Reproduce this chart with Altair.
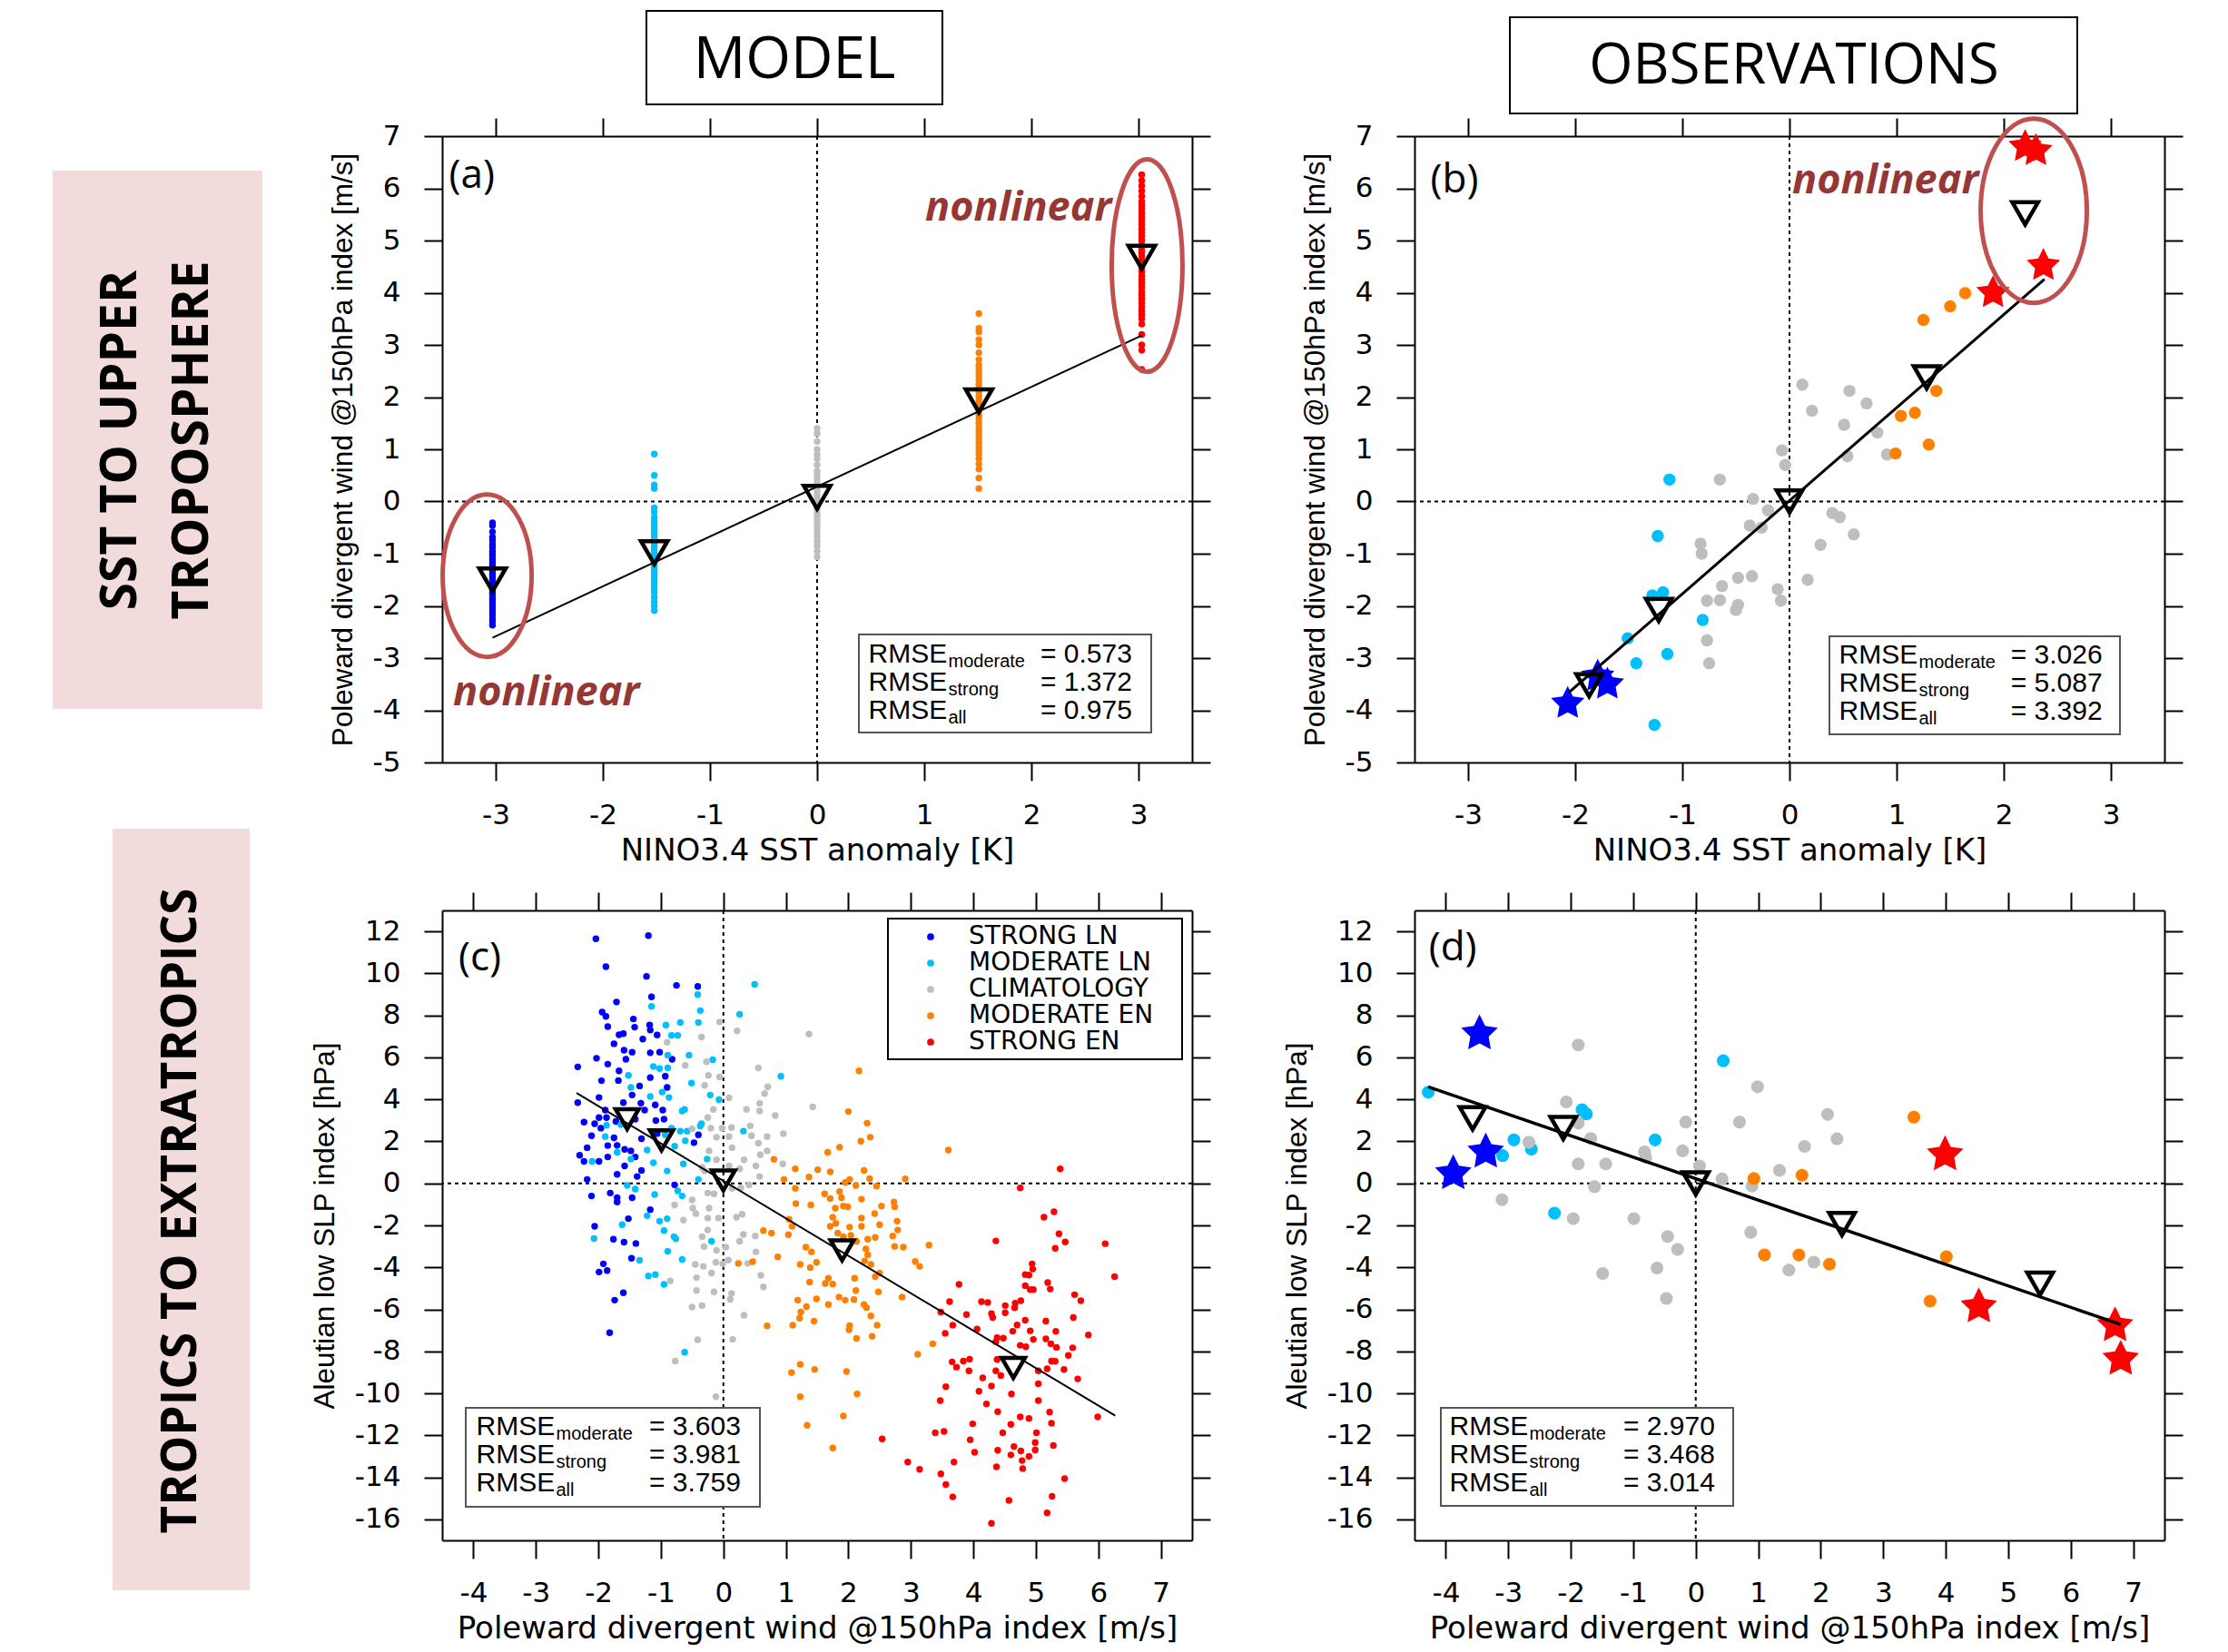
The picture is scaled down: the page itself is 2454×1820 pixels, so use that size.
import math
import altair as alt
import pandas as pd

CLASSES = ["STRONG LN", "MODERATE LN", "CLIMATOLOGY", "MODERATE EN", "STRONG EN"]
COLORS = ["#0000ff", "#00bfff", "#bebebe", "#ff8000", "#ff0000"]

# ---------------- Panel (a): MODEL, SST -> upper troposphere ----------------
A_STRIP_X = [-3.03, -1.52, 0.0, 1.51, 3.03]
A_STRONG_LN = [-0.41, -0.46, -0.58, -0.68, -0.74, -0.82, -0.88, -0.95, -1.0, -1.04, -1.1, -1.15,
               -1.19, -1.24, -1.3, -1.34, -1.4, -1.45, -1.5, -1.55, -1.6, -1.64, -1.7, -1.75, -1.8,
               -1.86, -1.9, -1.95, -2.01, -2.06, -2.12, -2.18, -2.25, -2.3, -2.37]
A_MODERATE_LN = [0.91, 0.5, 0.32, 0.25, -0.12, -0.2, -0.3, -0.36, -0.43, -0.5, -0.55, -0.6, -0.66,
                 -0.72, -0.78, -0.82, -0.88, -0.94, -1.0, -1.05, -1.1, -1.16, -1.22, -1.27, -1.33,
                 -1.38, -1.44, -1.5, -1.56, -1.62, -1.68, -1.75, -1.84, -1.92, -2.0, -2.09]
A_CLIM = [1.4, 1.3, 1.15, 1.0, 0.9, 0.82, 0.7, 0.58, 0.5, 0.42, 0.35, 0.28, 0.2, 0.12, 0.05, -0.02,
          -0.1, -0.16, -0.24, -0.3, -0.38, -0.45, -0.52, -0.6, -0.68, -0.76, -0.85, -0.95, -1.06]
A_MODERATE_EN = [3.6, 3.32, 3.25, 3.1, 3.0, 2.85, 2.72, 2.62, 2.55, 2.48, 2.4, 2.33, 2.25, 2.18, 2.1,
                 2.02, 1.95, 1.88, 1.8, 1.72, 1.65, 1.58, 1.5, 1.42, 1.35, 1.27, 1.2, 1.12, 1.05,
                 0.97, 0.9, 0.82, 0.72, 0.62, 0.45, 0.25]
A_STRONG_EN = [6.26, 6.15, 6.05, 5.95, 5.85, 5.75, 5.68, 5.6, 5.52, 5.45, 5.38, 5.3, 5.22, 5.15,
               5.08, 5.0, 4.92, 4.85, 4.78, 4.7, 4.62, 4.55, 4.48, 4.4, 4.32, 4.25, 4.18, 4.1, 4.02,
               3.95, 3.88, 3.8, 3.72, 3.65, 3.58, 3.5, 3.4, 3.2, 3.0, 2.9, 2.53]
A_MEAN_X = [-3.03, -1.52, 0.0, 1.51, 3.03]
A_MEAN_Y = [-1.50, -0.98, 0.08, 1.93, 4.68]
A_FIT_X = [-3.03, 3.03]
A_FIT_Y = [-2.61, 3.18]
A_ELLIPSE_X = [-3.08, 3.08]
A_ELLIPSE_Y = [-1.42, 4.52]
A_RMSE = ["0.573", "1.372", "0.975"]

# ---------------- Panel (b): OBSERVATIONS ----------------
B_STRONG_LN = [(-2.07, -3.87), (-1.79, -3.35), (-1.70, -3.50)]
B_MODERATE_LN = [(-1.12, 0.42), (-1.23, -0.66), (-1.28, -1.80), (-1.18, -1.74), (-0.81, -2.27),
                 (-1.51, -2.62), (-1.14, -2.92), (-1.43, -3.10), (-1.26, -4.28)]
B_CLIM = [(0.12, 2.24), (0.56, 2.12), (0.21, 1.74), (0.72, 1.88), (0.51, 1.47), (0.82, 1.32),
          (0.54, 0.87), (0.91, 0.90), (-0.07, 0.98), (-0.04, 0.70), (-0.65, 0.42), (-0.34, 0.05),
          (-0.20, -0.17), (-0.37, -0.46), (-0.26, -0.50), (0.40, -0.22), (0.47, -0.30), (0.60, -0.63),
          (0.29, -0.83), (-0.83, -0.81), (-0.82, -1.00), (-0.48, -1.46), (-0.35, -1.43), (-0.63, -1.62),
          (-0.77, -1.90), (-0.65, -1.89), (-0.48, -1.98), (-0.50, -2.08), (-0.11, -1.68), (-0.08, -1.90),
          (0.17, -1.50), (-0.77, -2.66), (-0.75, -3.10)]
B_MODERATE_EN = [(1.25, 3.48), (1.50, 3.74), (1.64, 3.99), (1.37, 2.12), (1.04, 1.64), (1.17, 1.70),
                 (0.99, 0.92), (1.30, 1.09)]
B_STRONG_EN = [(2.20, 6.80), (2.30, 6.72), (2.37, 4.52), (1.90, 4.00)]
B_MEAN_X = [-1.87, -1.22, 0.0, 1.28, 2.20]
B_MEAN_Y = [-3.52, -2.08, 0.0, 2.38, 5.52]
B_FIT_X = [-2.06, 2.38]
B_FIT_Y = [-3.66, 4.26]
B_ELLIPSE_X = [2.28]
B_ELLIPSE_Y = [5.57]
B_RMSE = ["3.026", "5.087", "3.392"]

# ---------------- Panel (c): MODEL, tropics -> extratropics ----------------
C_STRONG_LN = [(-2.04, 11.65), (-1.20, 11.80), (-1.88, 10.32), (-1.23, 9.86), (-0.75, 9.43), (-0.41, 9.38),
               (-1.71, 8.64), (-1.15, 8.88), (-1.94, 8.16), (-1.88, 7.95), (-1.44, 7.83), (-1.85, 7.47),
               (-1.42, 7.44), (-1.18, 7.54), (-1.17, 7.30), (-1.67, 7.08), (-1.60, 7.13), (-1.29, 6.87),
               (-1.06, 7.07), (-1.75, 6.65), (-1.59, 6.34), (-1.46, 6.25), (-1.17, 6.22), (-1.02, 6.25),
               (-2.03, 5.96), (-1.56, 5.91), (-0.82, 5.91), (-2.33, 5.55), (-1.85, 5.68), (-1.67, 5.36),
               (-1.17, 5.04), (-0.93, 5.10), (-1.95, 4.89), (-1.68, 4.90), (-1.34, 4.64), (-0.90, 4.57),
               (-1.99, 4.09), (-1.46, 4.21), (-1.60, 3.85), (-1.32, 3.82), (-1.09, 3.74), (-2.33, 3.85),
               (-1.89, 3.49), (-1.26, 3.49), (-0.97, 3.49), (-1.99, 3.13), (-1.87, 3.13), (-2.06, 2.84),
               (-2.23, 2.92), (-1.72, 2.95), (-1.41, 3.06), (-0.95, 3.06), (-1.08, 2.99), (-1.96, 2.63),
               (-0.40, 2.31), (-2.11, 2.27), (-1.75, 2.17), (-1.31, 2.13), (-1.06, 2.37), (-0.47, 1.94),
               (-2.18, 1.70), (-1.85, 1.80), (-1.70, 1.81), (-1.58, 1.62), (-1.48, 1.55), (-2.30, 1.34),
               (-2.23, 1.05), (-1.99, 1.05), (-1.85, 1.26), (-1.41, 1.26), (-1.58, 0.83), (-1.70, 0.43),
               (-1.31, 0.62), (-1.38, 0.33), (-2.18, 0.19), (-0.78, -0.07), (-2.11, -0.60), (-1.81, -0.46),
               (-1.70, -0.68), (-1.46, -0.68), (-1.70, -0.89), (-1.17, -1.25), (-1.52, -1.68), (-2.06, -2.04),
               (-1.76, -2.66), (-1.59, -2.80), (-1.40, -2.86), (-1.47, -3.57), (-1.92, -3.83), (-1.99, -4.22),
               (-1.86, -4.15), (-1.60, -5.21), (-1.74, -5.56), (-1.82, -7.11)]
C_MODERATE_LN = [(0.50, 9.48), (-0.41, 8.99), (-1.15, 8.43), (-0.37, 8.23), (0.26, 8.05), (-0.40, 7.66),
                 (-0.92, 7.54), (-0.69, 7.66), (-0.83, 7.05), (-0.73, 7.05), (-0.55, 6.11), (-0.89, 6.11),
                 (-0.17, 5.89), (-1.12, 5.57), (-1.02, 5.47), (-0.89, 5.50), (-1.52, 5.14), (0.92, 5.10),
                 (-0.51, 4.78), (-1.48, 4.57), (-0.98, 4.35), (-0.21, 4.21), (-0.07, 3.99), (-0.87, 4.09),
                 (-1.17, 4.14), (-0.62, 3.52), (-0.66, 3.45), (-0.35, 2.84), (-0.37, 2.73), (-1.87, 2.77),
                 (-1.64, 2.80), (-0.83, 2.63), (-0.69, 2.49), (-0.58, 2.49), (-1.89, 2.23), (-0.93, 2.31),
                 (-0.61, 2.03), (-0.78, 1.77), (-1.70, 1.48), (-1.22, 1.59), (-0.26, 1.16), (-1.48, 1.16),
                 (-2.10, 1.05), (-1.12, 0.98), (-0.64, 0.93), (-0.90, 0.59), (-0.40, 0.19), (-1.54, -0.10),
                 (-0.73, -0.36), (-1.41, -0.27), (-1.10, -0.53), (-0.66, -0.60), (-1.02, -1.80), (-0.90, -1.68),
                 (-1.62, -1.97), (0.32, 2.49), (-1.22, -1.54), (-2.07, -2.63), (-0.95, -2.25), (-0.79, -2.54),
                 (-0.76, -2.64), (-0.19, -2.76), (-0.89, -3.23), (-0.66, -3.62), (-1.34, -3.66), (-1.20, -4.41),
                 (-1.09, -4.34), (-0.95, -4.81), (-0.62, -8.04)]
C_CLIM = [(-0.06, 7.69), (0.22, 7.26), (-0.35, 6.97), (1.37, 7.11), (-0.90, 6.72), (-0.27, 5.79),
          (-0.61, 5.62), (0.56, 5.50), (-0.24, 5.14), (-0.06, 5.07), (-0.30, 4.67), (0.71, 4.60),
          (0.66, 4.28), (0.09, 4.07), (1.43, 3.64), (0.58, 3.81), (-0.16, 3.52), (-0.25, 3.13),
          (0.37, 3.52), (0.58, 3.45), (0.83, 3.23), (-0.50, 2.60), (-0.20, 2.63), (-0.02, 2.63),
          (0.13, 2.66), (0.43, 2.74), (-0.11, 2.20), (0.09, 2.23), (0.70, 2.23), (0.96, 2.37),
          (0.45, 2.27), (-0.23, 1.55), (0.56, 1.91), (0.14, 1.70), (-0.11, 1.12), (0.33, 1.12),
          (0.70, 1.55), (0.59, 1.36), (0.95, 0.93), (-0.34, 0.76), (-0.30, 0.59), (0.09, 0.83),
          (0.52, 0.83), (0.26, 0.69), (0.58, 0.33), (0.41, -0.07), (-0.25, -0.46), (-0.15, -0.50),
          (0.14, -0.24), (0.28, -0.22), (-0.50, -0.79), (-0.49, -1.18), (-0.23, -1.18), (-0.78, -1.03),
          (-0.64, -1.75), (-0.25, -1.65), (-0.08, -1.65), (0.21, -1.61), (0.30, -1.47), (-0.44, -1.44),
          (-0.25, -2.22), (-0.34, -2.54), (0.32, -2.43), (0.51, -2.51), (-0.31, -3.01), (-0.11, -3.19),
          (0.04, -3.04), (0.26, -2.76), (-0.45, -3.86), (-0.32, -3.95), (-0.12, -3.76), (-0.01, -3.83),
          (0.08, -3.65), (0.52, -3.26), (0.39, -3.81), (-0.19, -4.27), (-0.43, -4.49), (-0.85, -4.65),
          (0.60, -4.38), (0.64, -4.93), (-0.43, -5.10), (-0.15, -5.17), (0.13, -5.24), (0.11, -5.52),
          (-0.34, -5.82), (-0.50, -5.89), (0.33, -6.28), (-0.41, -7.45), (0.15, -7.43), (-0.77, -8.46),
          (-0.12, -10.16)]
C_MODERATE_EN = [(0.81, 1.15), (1.15, 0.69), (1.37, 0.30), (1.51, 0.65), (0.97, 0.19), (1.15, -0.24),
                 (1.16, -0.96), (1.40, -1.03), (1.05, -1.71), (2.17, 5.36), (2.00, 3.42), (2.30, 2.87),
                 (2.35, 2.20), (2.20, 2.01), (1.86, 1.72), (1.67, 1.48), (3.60, 1.59), (1.71, 0.55),
                 (2.25, 0.62), (2.34, 0.23), (2.91, 0.22), (2.02, 0.19), (1.95, 0.04), (2.12, -0.10),
                 (2.45, -0.13), (1.62, -0.50), (1.86, -0.39), (1.71, -0.72), (1.89, -0.68), (2.21, -0.75),
                 (2.73, -0.89), (2.53, -1.08), (2.74, -1.11), (1.92, -1.08), (1.79, -1.18), (1.99, -1.11),
                 (1.75, -1.61), (2.21, -1.65), (2.42, -1.44), (2.78, -1.80), (1.80, -1.90), (1.71, -2.04),
                 (2.02, -2.08), (2.21, -2.04), (2.50, -1.97), (0.64, -2.25), (0.77, -2.37), (1.04, -2.44),
                 (1.10, -2.04), (1.32, -3.04), (1.41, -3.26), (0.87, -3.50), (0.24, -3.81), (0.47, -3.73),
                 (1.23, -3.86), (1.39, -4.01), (1.49, -3.76), (1.38, -4.70), (1.19, -5.56), (1.33, -5.87),
                 (1.24, -6.13), (1.49, -5.50), (1.22, -6.42), (1.45, -6.56), (1.11, -6.75), (0.70, -6.79),
                 (1.23, -8.62), (1.09, -9.01), (1.46, -8.86), (1.23, -10.16), (1.34, -11.52),
                 (2.79, -2.22), (2.71, -2.51), (1.83, -2.37), (1.92, -2.54), (2.04, -2.47), (2.31, -2.66),
                 (2.43, -2.57), (2.13, -2.76), (2.74, -3.00), (2.88, -3.04), (3.29, -2.94), (2.28, -3.12),
                 (2.31, -3.40), (2.26, -3.69), (2.36, -3.86), (3.07, -3.72), (3.14, -3.95), (2.50, -4.27),
                 (2.43, -4.44), (2.10, -4.52), (1.68, -4.52), (1.63, -4.77), (1.75, -4.80), (2.12, -5.10),
                 (2.48, -5.17), (2.86, -5.41), (1.68, -5.77), (1.85, -5.41), (1.95, -5.56), (2.09, -5.53),
                 (2.25, -5.77), (2.29, -5.92), (2.36, -6.31), (2.46, -6.75), (2.02, -6.78), (2.01, -6.97),
                 (2.13, -7.38), (2.38, -7.28), (3.35, -7.64), (3.11, -8.14), (1.97, -8.96), (2.14, -10.03),
                 (1.92, -11.08), (1.75, -12.60)]
C_STRONG_EN = [(5.39, 0.69), (4.75, -0.22), (5.13, -1.61), (5.29, -1.35), (4.36, -2.74), (5.37, -2.40),
               (5.47, -2.79), (5.31, -3.09), (6.11, -2.87), (6.26, -4.44), (4.94, -3.83), (4.95, -4.08),
               (4.83, -4.34), (4.89, -4.37), (3.77, -4.81), (5.19, -4.72), (5.23, -5.03), (4.83, -4.87),
               (4.91, -5.06), (4.96, -5.06), (5.62, -5.30), (5.72, -5.59), (3.62, -5.63), (4.13, -5.63),
               (4.23, -5.67), (4.51, -5.82), (4.67, -5.70), (4.76, -5.59), (4.66, -5.92), (4.51, -6.16),
               (4.29, -6.20), (4.31, -6.39), (3.89, -6.25), (3.48, -6.13), (5.60, -6.39), (5.16, -6.56),
               (4.83, -6.52), (4.70, -6.74), (3.67, -6.75), (4.06, -6.94), (4.63, -7.04), (4.91, -7.02),
               (5.32, -7.05), (3.55, -7.14), (5.84, -7.22), (4.38, -7.35), (4.48, -7.37), (4.36, -7.54),
               (4.96, -7.43), (5.16, -7.40), (5.24, -7.64), (5.33, -7.81), (5.59, -7.83), (4.75, -7.71),
               (4.84, -7.78), (5.52, -8.19), (3.66, -8.50), (3.73, -8.75), (3.84, -8.46), (3.94, -8.37),
               (3.93, -8.93), (4.38, -8.39), (5.25, -8.46), (5.31, -8.47), (5.18, -8.83), (5.45, -8.86),
               (4.36, -8.93), (4.44, -9.15), (5.04, -8.93), (4.15, -9.26), (5.67, -9.31), (4.29, -9.65),
               (5.04, -9.54), (3.56, -9.68), (4.09, -9.90), (4.61, -10.03), (3.47, -10.34), (4.21, -10.50),
               (5.04, -10.34), (4.39, -10.87), (5.22, -10.89), (5.99, -11.12), (4.75, -11.12), (4.89, -11.20),
               (3.99, -11.45), (5.25, -11.42), (4.60, -11.48), (3.39, -11.88), (3.53, -11.81), (4.47, -11.88),
               (5.01, -11.88), (3.95, -12.21), (2.54, -12.17), (4.99, -12.34), (4.65, -12.53), (4.76, -12.74),
               (5.28, -12.48), (4.39, -12.71), (4.99, -12.70), (4.02, -12.81), (4.60, -12.93), (4.89, -13.00),
               (4.78, -13.20), (3.69, -13.27), (2.95, -13.27), (3.14, -13.62), (4.37, -13.50), (4.79, -13.58),
               (3.48, -13.83), (5.46, -14.06), (3.56, -14.34), (3.67, -14.93), (5.26, -14.90), (4.57, -15.10),
               (5.18, -15.69), (4.29, -16.19)]
C_MEAN_X = [-1.54, -0.99, 0.0, 1.90, 4.64]
C_MEAN_Y = [3.06, 2.05, 0.14, -3.19, -8.79]
C_FIT_X = [-2.35, 6.27]
C_FIT_Y = [4.31, -11.06]
C_RMSE = ["3.603", "3.981", "3.759"]

# ---------------- Panel (d): OBSERVATIONS ----------------
D_STRONG_LN = [(-3.46, 7.13), (-3.36, 1.50), (-3.88, 0.47)]
D_MODERATE_LN = [(-4.28, 4.34), (-1.82, 3.51), (-1.75, 3.31), (-2.91, 2.07), (-3.09, 1.32), (-2.63, 1.63),
                 (-2.26, -1.42), (-0.65, 2.07), (0.44, 5.84)]
D_CLIM = [(-1.88, 6.59), (-2.07, 3.88), (-1.88, 2.87), (-2.67, 1.96), (-1.68, 2.14), (-1.88, 0.93),
          (-1.44, 0.93), (-1.62, -0.16), (-3.10, -0.78), (-1.96, -1.68), (-0.99, -1.68), (-0.82, 1.50),
          (-0.80, 1.24), (-0.21, 1.55), (-0.16, 2.92), (0.06, 0.83), (0.42, 0.21), (0.90, -0.13),
          (0.70, 2.92), (0.99, 4.60), (1.34, 0.62), (1.74, 1.76), (2.11, 3.28), (2.26, 2.12),
          (0.88, -2.33), (-0.45, -2.53), (-0.29, -3.15), (-0.62, -4.03), (-1.49, -4.29), (-0.47, -5.48),
          (1.49, -4.13), (1.89, -3.75)]
D_MODERATE_EN = [(3.49, 3.15), (0.93, 0.23), (1.70, 0.39), (1.10, -3.41), (1.65, -3.41), (2.14, -3.85),
                 (4.01, -3.49), (3.75, -5.61)]
D_STRONG_EN = [(3.99, 1.37), (4.53, -5.87), (6.71, -6.77), (6.80, -8.37)]
D_MEAN_X = [-3.57, -2.12, 0.0, 2.34, 5.51]
D_MEAN_Y = [3.10, 2.64, 0.0, -1.94, -4.78]
D_FIT_X = [-4.28, 6.80]
D_FIT_Y = [4.60, -6.72]
D_RMSE = ["2.970", "3.468", "3.014"]

TOP_XTICKS = [-3, -2, -1, 0, 1, 2, 3]
TOP_YTICKS = [-5, -4, -3, -2, -1, 0, 1, 2, 3, 4, 5, 6, 7]
BOT_XTICKS = [-4, -3, -2, -1, 0, 1, 2, 3, 4, 5, 6, 7]
BOT_YTICKS = [-16, -14, -12, -10, -8, -6, -4, -2, 0, 2, 4, 6, 8, 10, 12]
TOP_XDOM = [-3.5, 3.5]
TOP_YDOM = [-5, 7]
BOT_XDOM = [-4.5, 7.5]
BOT_YDOM = [-17, 13]
SST_TITLE = "NINO3.4 SST anomaly [K]"
WIND_TITLE = "Poleward divergent wind @150hPa index [m/s]"
SLP_TITLE = "Aleutian low SLP index [hPa]"

# ---------------- helpers ----------------
W = 826
H_TOP = 690
H_BOT = 694
ELL_COLOR = "#c0504d"
NL_COLOR = "#953735"
PINK = "#f2dcdb"

AX = dict(tickSize=20, tickWidth=2, tickColor="black", domainColor="black", domainWidth=2, grid=False)
LAB = dict(labelFont="DejaVu Sans", labelFontSize=31, labelColor="black", labelExpr="'' + datum.value")
ONE = pd.DataFrame({"k": [0]})


def star_path(inner=0.5):
    pts = []
    for i in range(10):
        r = 1.0 if i % 2 == 0 else inner
        a = math.radians(-90 + 36 * i)
        pts.append(f"{r * math.cos(a):.4f},{r * math.sin(a):.4f}")
    return "M " + " L ".join(pts) + " Z"


STAR = star_path()


def xs(dom, axis):
    return alt.X("x:Q", scale=alt.Scale(domain=dom, nice=False, zero=False), axis=axis)


def ys(dom, axis):
    return alt.Y("y:Q", scale=alt.Scale(domain=dom, nice=False, zero=False), axis=axis)


def bottom_axis(vals, title):
    return alt.Axis(orient="bottom", values=vals, title=title, labelPadding=23, titleFont="DejaVu Sans",
                    titleFontSize=34, titleFontWeight="normal", titleColor="black", titlePadding=7,
                    **AX, **LAB)


def left_axis(vals, title):
    return alt.Axis(orient="left", values=vals, title=title, labelPadding=26, titleFont="Liberation Sans",
                    titleFontSize=31.5, titleFontWeight="normal", titleColor="black", titlePadding=16,
                    **AX, **LAB)


def frame(xdom, ydom, xvals, yvals):
    hl = alt.Chart(pd.DataFrame({"y": [0]})).mark_rule(color="black", strokeWidth=2, strokeDash=[4, 4]).encode(
        y=ys(ydom, alt.Axis(orient="right", values=yvals, labels=False, title=None, **AX)))
    vl = alt.Chart(pd.DataFrame({"x": [0]})).mark_rule(color="black", strokeWidth=2, strokeDash=[4, 4]).encode(
        x=xs(xdom, alt.Axis(orient="top", values=xvals, labels=False, title=None, **AX)))
    return [hl, vl]


def color_enc():
    return alt.Color("cls:N", scale=alt.Scale(domain=CLASSES, range=COLORS), legend=None)


def txt(t, px, py, **kw):
    return alt.Chart(ONE).mark_text(**kw).encode(x=alt.value(px), y=alt.value(py), text=alt.value(t))


def box(x1, x2, y1, y2, **kw):
    return alt.Chart(ONE).mark_rect(**kw).encode(x=alt.value(x1), x2=alt.value(x2),
                                                 y=alt.value(y1), y2=alt.value(y2))


def dot(px, py, color, size):
    return alt.Chart(ONE).mark_circle(color=color, size=size, opacity=1).encode(x=alt.value(px), y=alt.value(py))


def envelope(x1, x2, y1, y2):
    # invisible layout frame: makes every cell's bounds identical and known
    return box(x1, x2, y1, y2, fill="white", opacity=0)


def rmse_block(vals, bx, by, tx, ex, bases):
    out = [box(bx[0], bx[1], by[0], by[1], fill="white", stroke="#555555", strokeWidth=2)]
    for sub, v, b in zip(["moderate", "strong", "all"], vals, bases):
        out.append(txt("RMSE", tx, b, align="left", baseline="alphabetic", font="Liberation Sans",
                       fontSize=30, color="black"))
        out.append(txt(sub, tx + 88, b + 5, align="left", baseline="alphabetic", font="Liberation Sans",
                       fontSize=20, color="black"))
        out.append(txt("= " + v, ex, b, align="left", baseline="alphabetic", font="Liberation Sans",
                       fontSize=30, color="black"))
    return out


def ellipse_path(k):
    c = 0.5523
    return (f"M {k:.4f},0 C {k:.4f},{c} {c*k:.4f},1 0,1 C {-c*k:.4f},1 {-k:.4f},{c} {-k:.4f},0 "
            f"C {-k:.4f},{-c} {-c*k:.4f},-1 0,-1 C {c*k:.4f},-1 {k:.4f},{-c} {k:.4f},0 Z")


def ellipse(xdom, ydom, cx, cy, rx, ry):
    return alt.Chart(pd.DataFrame({"x": [cx], "y": [cy]})).mark_point(
        shape=ellipse_path(rx / ry), filled=False, stroke=ELL_COLOR, strokeWidth=5, opacity=1,
        size=(2 * ry) ** 2).encode(x=xs(xdom, None), y=ys(ydom, None))


def line_layer(xdom, ydom, fx, fy, width):
    return alt.Chart(pd.DataFrame({"x": fx, "y": fy})).mark_line(color="black", strokeWidth=width).encode(
        x=xs(xdom, None), y=ys(ydom, None))


def mean_layer(xdom, ydom, mx, my, size):
    return alt.Chart(pd.DataFrame({"x": mx, "y": my})).mark_point(
        shape="triangle-down", filled=False, color="black", strokeWidth=4.5, size=size, opacity=1).encode(
        x=xs(xdom, None), y=ys(ydom, None))


def pair_rows(cls, pairs):
    return [{"x": x, "y": y, "cls": cls} for x, y in pairs]


def panel_label(t, px, py):
    return txt(t, px, py, align="left", baseline="middle", font="Open Sans", fontSize=44, color="black")


def nonlinear(px, py):
    return txt("nonlinear", px, py, align="left", baseline="alphabetic", font="Open Sans", fontSize=45,
               fontStyle="italic", fontWeight="bold", color=NL_COLOR)


def legend_block(lx, ly):
    out = [box(lx, lx + 324, ly, ly + 155, fill="white", stroke="black", strokeWidth=2)]
    for i, (cls, col) in enumerate(zip(CLASSES, COLORS)):
        yy = ly + 20 + i * 29
        out.append(dot(lx + 47, yy, col, 60))
        out.append(txt(cls, lx + 89, yy, align="left", baseline="middle", font="DejaVu Sans",
                       fontSize=28, color="black"))
    return out


ENV_L1, ENV_L2, ENV_R = -430, -170, W + 30
ENV_T1, ENV_T2, ENV_B = -140, -95, 130

# ---------------- Panel (a) ----------------
rows_a = []
for cls, xv, ylist in zip(CLASSES, A_STRIP_X, [A_STRONG_LN, A_MODERATE_LN, A_CLIM, A_MODERATE_EN, A_STRONG_EN]):
    rows_a += [{"x": xv, "y": yv, "cls": cls} for yv in ylist]
pts_a = alt.Chart(pd.DataFrame(rows_a)).mark_circle(size=55, opacity=1).encode(
    x=xs(TOP_XDOM, bottom_axis(TOP_XTICKS, SST_TITLE)),
    y=ys(TOP_YDOM, left_axis(TOP_YTICKS, WIND_TITLE)),
    color=color_enc())

layers_a = [envelope(ENV_L1, ENV_R, ENV_T1, H_TOP + ENV_B)] + frame(TOP_XDOM, TOP_YDOM, TOP_XTICKS, TOP_YTICKS) + [
    pts_a,
    line_layer(TOP_XDOM, TOP_YDOM, A_FIT_X, A_FIT_Y, 2),
    mean_layer(TOP_XDOM, TOP_YDOM, A_MEAN_X, A_MEAN_Y, 850),
    ellipse(TOP_XDOM, TOP_YDOM, A_ELLIPSE_X[0], A_ELLIPSE_Y[0], 49, 89.5),
    ellipse(TOP_XDOM, TOP_YDOM, A_ELLIPSE_X[1], A_ELLIPSE_Y[1], 39, 117),
    nonlinear(532, 92.5),
    nonlinear(12, 627),
    panel_label("(a)", 7.5, 44),
] + rmse_block(A_RMSE, (459, 781), (549, 657), 469.5, 659, [580, 611, 642]) + [
    box(225, 551, -138, -35, fill="white", stroke="black", strokeWidth=2),
    txt("MODEL", 388, -83.5, align="center", baseline="middle", font="Open Sans", fontSize=64, color="black"),
    box(-429, -198, 38, 631, fill=PINK),
    txt("SST  TO UPPER", -354, 335, angle=270, align="center", baseline="middle", font="Open Sans",
        fontWeight="bold", fontSize=55, color="black"),
    txt("TROPOSPHERE", -275, 335, angle=270, align="center", baseline="middle", font="Open Sans",
        fontWeight="bold", fontSize=55, color="black"),
]
panel_a = alt.layer(*layers_a).resolve_axis(x="independent", y="independent").properties(width=W, height=H_TOP)

# ---------------- Panel (b) ----------------
rows_b = pair_rows("MODERATE LN", B_MODERATE_LN) + pair_rows("CLIMATOLOGY", B_CLIM) + pair_rows("MODERATE EN", B_MODERATE_EN)
stars_b = pair_rows("STRONG LN", B_STRONG_LN) + pair_rows("STRONG EN", B_STRONG_EN)
pts_b = alt.Chart(pd.DataFrame(rows_b)).mark_circle(size=180, opacity=1).encode(
    x=xs(TOP_XDOM, bottom_axis(TOP_XTICKS, SST_TITLE)),
    y=ys(TOP_YDOM, left_axis(TOP_YTICKS, WIND_TITLE)),
    color=color_enc())
st_b = alt.Chart(pd.DataFrame(stars_b)).mark_point(shape=STAR, filled=True, size=1500, opacity=1).encode(
    x=xs(TOP_XDOM, None), y=ys(TOP_YDOM, None), color=color_enc())

layers_b = [envelope(ENV_L2, ENV_R, ENV_T1, H_TOP + ENV_B)] + frame(TOP_XDOM, TOP_YDOM, TOP_XTICKS, TOP_YTICKS) + [
    pts_b, st_b,
    line_layer(TOP_XDOM, TOP_YDOM, B_FIT_X, B_FIT_Y, 3),
    mean_layer(TOP_XDOM, TOP_YDOM, B_MEAN_X, B_MEAN_Y, 800),
    ellipse(TOP_XDOM, TOP_YDOM, B_ELLIPSE_X[0], B_ELLIPSE_Y[0], 58.5, 101.5),
    nonlinear(416, 62.6),
    panel_label("(b)", 17.6, 48.7),
] + rmse_block(B_RMSE, (457, 777), (551, 659), 467.5, 656.7, [581, 612, 643]) + [
    box(105, 730, -131, -25, fill="white", stroke="black", strokeWidth=2),
    txt("OBSERVATIONS", 418, -77.4, align="center", baseline="middle", font="Open Sans", fontSize=62,
        color="black"),
]
panel_b = alt.layer(*layers_b).resolve_axis(x="independent", y="independent").properties(width=W, height=H_TOP)

# ---------------- Panel (c) ----------------
rows_c = (pair_rows("STRONG LN", C_STRONG_LN) + pair_rows("MODERATE LN", C_MODERATE_LN)
          + pair_rows("CLIMATOLOGY", C_CLIM) + pair_rows("MODERATE EN", C_MODERATE_EN)
          + pair_rows("STRONG EN", C_STRONG_EN))
pts_c = alt.Chart(pd.DataFrame(rows_c)).mark_circle(size=55, opacity=1).encode(
    x=xs(BOT_XDOM, bottom_axis(BOT_XTICKS, WIND_TITLE)),
    y=ys(BOT_YDOM, left_axis(BOT_YTICKS, SLP_TITLE)),
    color=color_enc())

layers_c = [envelope(ENV_L1, ENV_R, ENV_T2, H_BOT + ENV_B)] + frame(BOT_XDOM, BOT_YDOM, BOT_XTICKS, BOT_YTICKS) + [
    pts_c,
    line_layer(BOT_XDOM, BOT_YDOM, C_FIT_X, C_FIT_Y, 2),
    mean_layer(BOT_XDOM, BOT_YDOM, C_MEAN_X, C_MEAN_Y, 650),
    panel_label("(c)", 18, 52.5),
] + legend_block(491, 9) + rmse_block(C_RMSE, (26, 350), (548, 657), 37.5, 228, [578, 609, 640]) + [
    box(-363, -212, -90, 749, fill=PINK),
    txt("TROPICS TO EXTRATROPICS", -287, 331, angle=270, align="center", baseline="middle",
        font="Open Sans", fontWeight="bold", fontSize=53, color="black"),
]
panel_c = alt.layer(*layers_c).resolve_axis(x="independent", y="independent").properties(width=W, height=H_BOT)

# ---------------- Panel (d) ----------------
rows_d = pair_rows("MODERATE LN", D_MODERATE_LN) + pair_rows("CLIMATOLOGY", D_CLIM) + pair_rows("MODERATE EN", D_MODERATE_EN)
stars_d = pair_rows("STRONG LN", D_STRONG_LN) + pair_rows("STRONG EN", D_STRONG_EN)
pts_d = alt.Chart(pd.DataFrame(rows_d)).mark_circle(size=200, opacity=1).encode(
    x=xs(BOT_XDOM, bottom_axis(BOT_XTICKS, WIND_TITLE)),
    y=ys(BOT_YDOM, left_axis(BOT_YTICKS, SLP_TITLE)),
    color=color_enc())
st_d = alt.Chart(pd.DataFrame(stars_d)).mark_point(shape=STAR, filled=True, size=1800, opacity=1).encode(
    x=xs(BOT_XDOM, None), y=ys(BOT_YDOM, None), color=color_enc())

layers_d = [envelope(ENV_L2, ENV_R, ENV_T2, H_BOT + ENV_B)] + frame(BOT_XDOM, BOT_YDOM, BOT_XTICKS, BOT_YTICKS) + [
    pts_d, st_d,
    line_layer(BOT_XDOM, BOT_YDOM, D_FIT_X, D_FIT_Y, 3.5),
    mean_layer(BOT_XDOM, BOT_YDOM, D_MEAN_X, D_MEAN_Y, 800),
    panel_label("(d)", 15.7, 42),
] + rmse_block(D_RMSE, (29, 351), (548, 656), 38.5, 230, [578, 609, 640])
panel_d = alt.layer(*layers_d).resolve_axis(x="independent", y="independent").properties(width=W, height=H_BOT)

# column gap: col2 origin - col1 origin = 1071 px ; row gap: row2 origin - row1 origin = 853 px
COL_SPACING = 1071 - ENV_R + ENV_L2
ROW_SPACING = 853 - (H_TOP + ENV_B) + ENV_T2

chart = alt.concat(panel_a, panel_b, panel_c, panel_d, columns=2,
                   spacing={"row": ROW_SPACING, "column": COL_SPACING}).properties(
    padding={"left": 49, "top": 2, "right": 10, "bottom": 10}).configure_view(stroke=None)

chart.save("out.html", embed_options={"renderer": "svg", "actions": False})
